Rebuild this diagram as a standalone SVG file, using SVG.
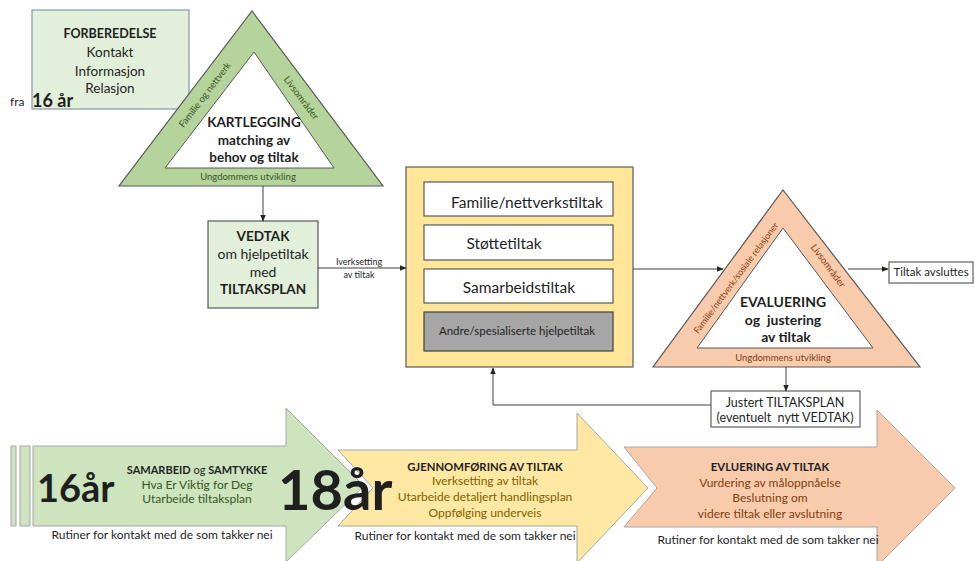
<svg xmlns="http://www.w3.org/2000/svg" width="975" height="561" viewBox="0 0 975 561">
<style>
text{font-family:Lato,"Liberation Sans","DejaVu Sans",sans-serif;fill:#1f1f1f}
.c{text-anchor:middle}
.b{font-weight:bold}
.ln{stroke:#404040;stroke-width:1;fill:none}
.box{stroke:#595959;stroke-width:1.2}
.arr{stroke:#a6a6a6;stroke-width:1}
.gt{fill:#375623}
.st{fill:#843c0c}
.yt{fill:#7f6000}
</style>
<defs>
<marker id="ah" viewBox="0 0 10 10" refX="9" refY="5" markerWidth="7" markerHeight="7" orient="auto" markerUnits="userSpaceOnUse">
<path d="M0,1 L10,5 L0,9 z" fill="#262626"/>
</marker>
</defs>
<rect width="975" height="561" fill="#ffffff"/>

<g id="forberedelse">
<rect x="32" y="10" width="157" height="99" fill="#e2efda" stroke="#8497b0" stroke-width="1.2"/>
<text class="c b" x="110" y="38" font-size="12.5">FORBEREDELSE</text>
<text class="c" x="110" y="57" font-size="13.5">Kontakt</text>
<text class="c" x="110" y="76" font-size="13.5">Informasjon</text>
<text class="c" x="110" y="93" font-size="13.5">Relasjon</text>
<text x="10" y="106" font-size="12">fra</text>
<text class="b" x="32" y="107" font-size="18">16 år</text>
</g>

<g id="kartlegging">
<polygon points="252,11 383,186 119,186" fill="#b4d49c" stroke="#595959" stroke-width="1.2"/>
<polygon points="254,52 334,168 165,168" fill="#ffffff" stroke="#595959" stroke-width="1"/>
<text class="c b" x="254" y="127" font-size="13.5">KARTLEGGING</text>
<text class="c b" x="254" y="145" font-size="13.5">matching av</text>
<text class="c b" x="254" y="162" font-size="13.5">behov og tiltak</text>
<text class="c gt" x="248" y="180" font-size="9.5">Ungdommens utvikling</text>
<text class="c gt" font-size="9.5" transform="translate(205,95) rotate(-52.8)" y="3">Familie og nettverk</text>
<text class="c gt" font-size="9.5" transform="translate(301,98) rotate(53)" y="3">Livsområder</text>
</g>

<g id="vedtak">
<rect x="208" y="221" width="110" height="87" fill="#e2efda" class="box"/>
<text class="c b" x="263" y="241" font-size="13.5">VEDTAK</text>
<text class="c" x="263" y="259" font-size="14">om hjelpetiltak</text>
<text class="c" x="263" y="277" font-size="14">med</text>
<text class="c b" x="263" y="294" font-size="13.5">TILTAKSPLAN</text>
</g>

<g id="tiltak">
<rect x="406" y="167" width="227" height="200" fill="#ffe699" class="box"/>
<rect x="424" y="182" width="189" height="34" fill="#ffffff" class="box"/>
<rect x="424" y="225" width="189" height="35" fill="#ffffff" class="box"/>
<rect x="424" y="269" width="189" height="34" fill="#ffffff" class="box"/>
<rect x="424" y="312" width="189" height="39" fill="#a6a6a6" stroke="#404040" stroke-width="1.2"/>
<text class="c" x="527" y="208" font-size="15.5">Familie/nettverkstiltak</text>
<text class="c" x="504" y="249" font-size="15.5">Støttetiltak</text>
<text class="c" x="519" y="293" font-size="15.5">Samarbeidstiltak</text>
<text class="c" x="517" y="335" font-size="11.5">Andre/spesialiserte hjelpetiltak</text>
</g>

<g id="evaluering">
<polygon points="783,190 920,367 653,367" fill="#f8cbad" stroke="#595959" stroke-width="1.2"/>
<polygon points="783,228 873,348 697,348" fill="#ffffff" stroke="#595959" stroke-width="1"/>
<text class="c b" x="783" y="307" font-size="14">EVALUERING</text>
<text class="c b" x="783" y="325" font-size="14" xml:space="preserve">og  justering</text>
<text class="c b" x="786" y="342" font-size="14">av tiltak</text>
<text class="c st" x="783" y="361" font-size="9.5">Ungdommens utvikling</text>
<text class="c st" font-size="9" transform="translate(736,278) rotate(-53.5)" y="3">Familie/nettverk/sosiale relasjoner</text>
<text class="c st" font-size="9.5" transform="translate(828,266) rotate(53.5)" y="3">Livsområder</text>
</g>

<g id="avsluttes">
<rect x="889" y="262" width="84" height="21" fill="#ffffff" stroke="#404040" stroke-width="1"/>
<text class="c" x="931" y="276" font-size="11.5">Tiltak avsluttes</text>
</g>

<g id="justert">
<rect x="711" y="391" width="149" height="36" fill="#ffffff" stroke="#404040" stroke-width="1"/>
<text class="c" x="785" y="407" font-size="12.5">Justert TILTAKSPLAN</text>
<text class="c" x="785" y="422" font-size="12.5" xml:space="preserve">(eventuelt  nytt VEDTAK)</text>
</g>

<g id="connectors">
<line class="ln" x1="263" y1="186" x2="263" y2="221" marker-end="url(#ah)"/>
<line class="ln" x1="318" y1="268" x2="406" y2="268" marker-end="url(#ah)"/>
<text class="c" x="359" y="265" font-size="9">Iverksetting</text>
<text class="c" x="359" y="278" font-size="9">av tiltak</text>
<line class="ln" x1="633" y1="269" x2="723" y2="269" marker-end="url(#ah)"/>
<line class="ln" x1="848" y1="269" x2="888" y2="269" marker-end="url(#ah)"/>
<line class="ln" x1="786" y1="367" x2="786" y2="391" marker-end="url(#ah)"/>
<polyline class="ln" points="711,405 493,405 493,368" marker-end="url(#ah)"/>
</g>

<g id="fase1">
<rect x="11" y="446" width="5" height="80" fill="#cde4bf" class="arr"/>
<rect x="20" y="446" width="10" height="80" fill="#cde4bf" class="arr"/>
<polygon points="33,446 286,446 286,408 364,486 286,562 286,526 33,526" fill="#cde4bf" class="arr"/>
<text class="b" x="37" y="502" font-size="38" fill="#0d0d0d">16år</text>
<text class="c" x="197" y="474" font-size="11"><tspan class="b">SAMARBEID</tspan> og <tspan class="b">SAMTYKKE</tspan></text>
<text class="c gt" x="197" y="489" font-size="12">Hva Er Viktig for Deg</text>
<text class="c gt" x="197" y="503" font-size="12">Utarbeide tiltaksplan</text>
<text class="c" x="162" y="539" font-size="12">Rutiner for kontakt med de som takker nei</text>
</g>

<g id="fase2">
<polygon points="338,450 577,450 577,413 648,488 577,563 577,526 338,526 373,488" fill="#ffe8a3" class="arr"/>
<text class="c b" x="485" y="471" font-size="11.3">GJENNOMFØRING AV TILTAK</text>
<text class="c yt" x="485" y="485" font-size="12">Iverksetting av tiltak</text>
<text class="c yt" x="485" y="501" font-size="12">Utarbeide detaljert handlingsplan</text>
<text class="c yt" x="485" y="517" font-size="12">Oppfølging underveis</text>
<text class="c" x="465" y="540" font-size="12">Rutiner for kontakt med de som takker nei</text>
</g>

<g id="fase3">
<polygon points="624,447 877,447 877,410 955,488 877,566 877,527 624,527 657,488" fill="#f8cbad" class="arr"/>
<text class="c b" x="770" y="471" font-size="11.3">EVLUERING AV TILTAK</text>
<text class="c st" x="770" y="487" font-size="12">Vurdering av måloppnåelse</text>
<text class="c st" x="770" y="502" font-size="12">Beslutning om</text>
<text class="c st" x="770" y="518" font-size="12">videre tiltak eller avslutning</text>
<text class="c" x="768" y="544" font-size="12">Rutiner for kontakt med de som takker nei</text>
</g>

<text class="b" x="278" y="510" font-size="56" fill="#0d0d0d">18år</text>
</svg>
